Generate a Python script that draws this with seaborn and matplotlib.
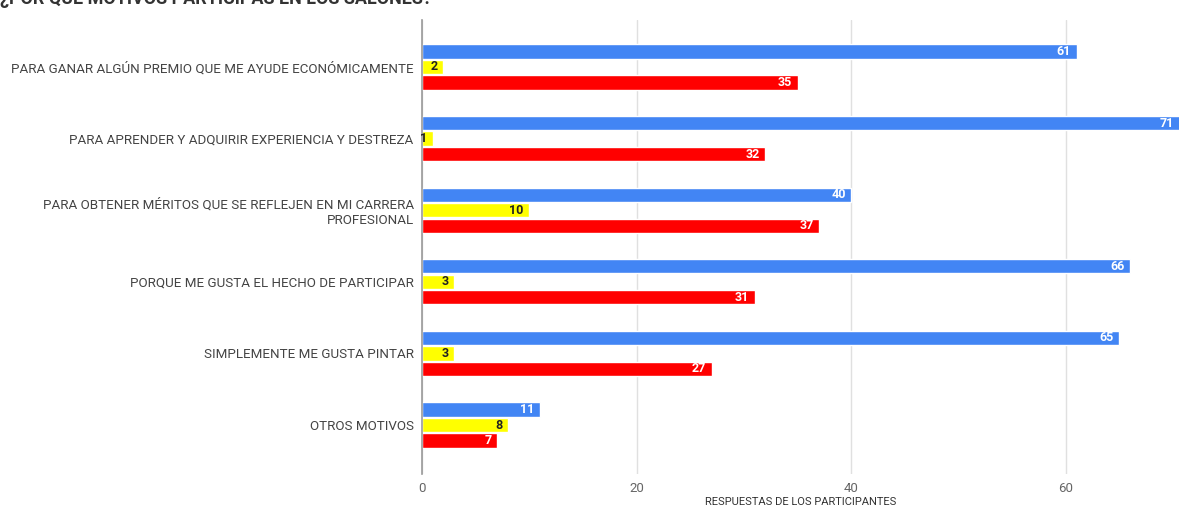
import matplotlib
matplotlib.use("Agg")
import matplotlib.pyplot as plt
import seaborn as sns
import pandas as pd

# Motivos de participación y respuestas por serie
motivos = [
    "PARA GANAR ALGÚN PREMIO QUE ME AYUDE ECONÓMICAMENTE",
    "PARA APRENDER Y ADQUIRIR EXPERIENCIA Y DESTREZA",
    "PARA OBTENER MÉRITOS QUE SE REFLEJEN EN MI CARRERA\nPROFESIONAL",
    "PORQUE ME GUSTA EL HECHO DE PARTICIPAR",
    "SIMPLEMENTE ME GUSTA PINTAR",
    "OTROS MOTIVOS",
]
serie_1 = [61, 71, 40, 66, 65, 11]
serie_2 = [2, 1, 10, 3, 3, 8]
serie_3 = [35, 32, 37, 31, 27, 7]
series = ["Serie 1", "Serie 2", "Serie 3"]
colores = ["#4285F4", "#FFFF00", "#FF0000"]
color_texto = ["white", "#222222", "white"]
ticks_x = [0, 20, 40, 60]

titulo = "¿POR QUÉ MOTIVOS PARTICIPAS EN LOS SALONES?"
etiqueta_x = "RESPUESTAS DE LOS PARTICIPANTES"

filas = []
for nombre, valores in zip(series, [serie_1, serie_2, serie_3]):
    for m, v in zip(motivos, valores):
        filas.append({"motivo": m, "serie": nombre, "valor": v})
df = pd.DataFrame(filas)

sns.set_theme(style="white")
plt.rcParams["font.family"] = ["Roboto", "DejaVu Sans"]

fig = plt.figure(figsize=(11.79, 5.07), dpi=100)
ax = fig.add_axes([422 / 1179, 1 - 474 / 507, 1 - 422 / 1179, (474 - 20) / 507])

sns.barplot(
    data=df, y="motivo", x="valor", hue="serie", order=motivos,
    hue_order=series, palette=colores, orient="h", width=0.65, gap=0.08,
    saturation=1, legend=False, ax=ax,
)

x_max = 70.55
ax.set_xlim(0, x_max)
ax.set_ylim(5.684, -0.656)

# Etiquetas de valor dentro del extremo de cada barra (limitadas al área visible)
for cont, col in zip(ax.containers, color_texto):
    etiquetas = ax.bar_label(cont, padding=-4, label_type="edge", color=col,
                             fontsize=9, fontweight="bold")
    for t in etiquetas:
        t.set_horizontalalignment("right")
        x, y = t.xy
        t.xy = (min(x, x_max), y)

ax.set_xticks(ticks_x)
ax.set_xticklabels([str(t) for t in ticks_x], color="#666666", fontsize=9.5)
ax.tick_params(axis="x", length=0, pad=6)
ax.tick_params(axis="y", length=0, pad=6)
for lbl in ax.get_yticklabels():
    lbl.set_color("#444444")
    lbl.set_fontsize(9.6)
    lbl.set_horizontalalignment("right")
    lbl.set_multialignment("right")

ax.grid(axis="x", color="#e0e0e0", linewidth=1)
ax.set_axisbelow(True)
for s in ["top", "right", "bottom"]:
    ax.spines[s].set_visible(False)
ax.spines["left"].set_color("#999999")
ax.spines["left"].set_linewidth(1.2)
ax.set_ylabel("")
ax.set_xlabel(etiqueta_x, fontsize=8, color="#333333", labelpad=1)

fig.text(0.0, 1 - 4 / 507, titulo, fontsize=13, fontweight="bold",
         color="#333333", ha="left", va="baseline")

fig.savefig("out.png", dpi=100)
